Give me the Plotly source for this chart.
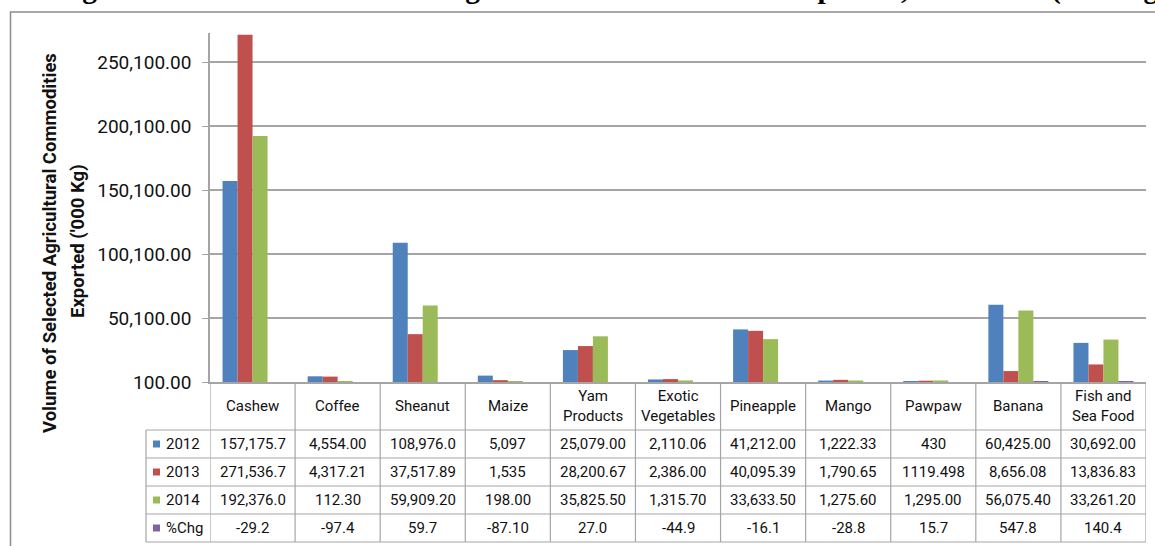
import plotly.graph_objects as go

# ---- data ----
categories = ["Cashew", "Coffee", "Sheanut", "Maize", "Yam Products", "Exotic Vegetables",
              "Pineapple", "Mango", "Pawpaw", "Banana", "Fish and Sea Food"]
header_labels = ["Cashew", "Coffee", "Sheanut", "Maize", "Yam<br>Products", "Exotic<br>Vegetables",
                 "Pineapple", "Mango", "Pawpaw", "Banana", "Fish and<br>Sea Food"]

v2012 = [157175.7, 4554.00, 108976.0, 5097, 25079.00, 2110.06, 41212.00, 1222.33, 430, 60425.00, 30692.00]
v2013 = [271536.7, 4317.21, 37517.89, 1535, 28200.67, 2386.00, 40095.39, 1790.65, 1119.498, 8656.08, 13836.83]
v2014 = [192376.0, 112.30, 59909.20, 198.00, 35825.50, 1315.70, 33633.50, 1275.60, 1295.00, 56075.40, 33261.20]
pchg = [-29.2, -97.4, 59.7, -87.10, 27.0, -44.9, -16.1, -28.8, 15.7, 547.8, 140.4]

# table cell text as printed under each column
t2012 = ["157,175.7", "4,554.00", "108,976.0", "5,097", "25,079.00", "2,110.06", "41,212.00", "1,222.33", "430", "60,425.00", "30,692.00"]
t2013 = ["271,536.7", "4,317.21", "37,517.89", "1,535", "28,200.67", "2,386.00", "40,095.39", "1,790.65", "1119.498", "8,656.08", "13,836.83"]
t2014 = ["192,376.0", "112.30", "59,909.20", "198.00", "35,825.50", "1,315.70", "33,633.50", "1,275.60", "1,295.00", "56,075.40", "33,261.20"]
tchg = ["-29.2", "-97.4", "59.7", "-87.10", "27.0", "-44.9", "-16.1", "-28.8", "15.7", "547.8", "140.4"]

series_names = ["2012", "2013", "2014", "%Chg"]
series_values = [v2012, v2013, v2014, pchg]
series_text = [t2012, t2013, t2014, tchg]
colors = ["#4F81BD", "#C0504D", "#9BBB59", "#8064A2"]

# ---- layout geometry (pixels) ----
W_PX, H_PX = 1155, 546
L, R, T, B = 210, 1146, 33, 382
PW, PH = R - L, B - T
GRID = "#A5A5A5"
TEXT = "#111111"
FONT = "Roboto"


def xp(px):
    return (px - L) / PW


def yp(py):
    return (B - py) / PH


fig = go.Figure()
idx = list(range(len(categories)))
for name, vals, col in zip(series_names, series_values, colors):
    fig.add_trace(go.Bar(
        x=idx, y=vals, name=name, marker=dict(color=col, line=dict(width=0)),
        showlegend=False, hoverinfo="y+name",
    ))

shapes = []
annotations = []

# outer frame of the chart object
shapes.append(dict(type="rect", xref="paper", yref="paper",
                   x0=xp(10.5), x1=xp(W_PX + 20), y0=yp(12), y1=yp(H_PX + 20),
                   line=dict(color="#8C8C8C", width=1.5), fillcolor="rgba(0,0,0,0)", layer="below"))

# data table grid
row_lines = [430, 458, 486, 514, 542]
for py in row_lines:
    shapes.append(dict(type="line", xref="paper", yref="paper", x0=xp(146), x1=1,
                       y0=yp(py), y1=yp(py), line=dict(color=GRID, width=1.2)))
shapes.append(dict(type="line", xref="paper", yref="paper", x0=xp(146), x1=xp(146),
                   y0=yp(430), y1=yp(542), line=dict(color=GRID, width=1.2)))
for i in range(len(categories) + 1):
    shapes.append(dict(type="line", xref="x", yref="paper", x0=i - 0.5, x1=i - 0.5,
                       y0=yp(542), y1=0, line=dict(color=GRID, width=1.2)))

# category header row
for i, lab in enumerate(header_labels):
    annotations.append(dict(x=i, y=yp(406), xref="x", yref="paper", text=lab, showarrow=False,
                            xanchor="center", yanchor="middle",
                            font=dict(family=FONT, size=15, color=TEXT), align="center"))

# value rows with legend keys
row_centers = [444, 472, 500, 528]
for r, (name, texts, col) in enumerate(zip(series_names, series_text, colors)):
    cy = row_centers[r]
    shapes.append(dict(type="rect", xref="paper", yref="paper",
                       x0=xp(153), x1=xp(160), y0=yp(cy + 3.5), y1=yp(cy - 3.5),
                       fillcolor=col, line=dict(width=0)))
    annotations.append(dict(x=xp(164), y=yp(cy), xref="paper", yref="paper", text=name,
                            showarrow=False, xanchor="left", yanchor="middle",
                            font=dict(family=FONT, size=15, color=TEXT)))
    for i, t in enumerate(texts):
        annotations.append(dict(x=i, y=yp(cy), xref="x", yref="paper", text=t, showarrow=False,
                                xanchor="center", yanchor="middle",
                                font=dict(family=FONT, size=15, color=TEXT)))

# y-axis title (two lines)
annotations.append(dict(x=xp(50), y=yp(243), xref="paper", yref="paper",
                        text="<b>Volume of Selected Agricultural Commodities</b>",
                        textangle=-90, showarrow=False, xanchor="center", yanchor="middle",
                        font=dict(family=FONT, size=18.5, color=TEXT)))
annotations.append(dict(x=xp(78), y=yp(241), xref="paper", yref="paper",
                        text="<b>Exported ('000 Kg)</b>",
                        textangle=-90, showarrow=False, xanchor="center", yanchor="middle",
                        font=dict(family=FONT, size=18.5, color=TEXT)))

# caption above the chart (runs off the top edge)
annotations.append(dict(x=xp(54), y=yp(7), xref="paper", yref="paper", xanchor="left",
                        yanchor="bottom",
                        text="<b>Figure 3.2: Volume of Selected Agricultural Commodities Exported, 2012-2014 ('000 Kg)</b>",
                        showarrow=False,
                        font=dict(family="Liberation Serif", size=29.5, color="#000000")))

fig.update_layout(
    width=W_PX, height=H_PX,
    margin=dict(l=L, r=W_PX - R, t=T, b=H_PX - B, pad=0),
    paper_bgcolor="white", plot_bgcolor="white",
    barmode="group", bargap=0.295, bargroupgap=0,
    shapes=shapes, annotations=annotations,
    font=dict(family=FONT, color=TEXT),
)
fig.update_xaxes(range=[-0.5, len(categories) - 0.5], showticklabels=False, ticks="",
                 showgrid=False, showline=True, linecolor=GRID, linewidth=1.5, zeroline=False,
                 fixedrange=True)
fig.update_yaxes(range=[100, 273000], tick0=100, dtick=50000, tickformat=",.2f",
                 showgrid=True, gridcolor=GRID, gridwidth=1.5, showline=True, linecolor=GRID,
                 linewidth=1.5, ticks="outside", ticklen=6, tickcolor=GRID, zeroline=False,
                 tickfont=dict(family=FONT, size=19, color=TEXT), ticklabelstandoff=7,
                 fixedrange=True)

fig.write_html("out.html")
